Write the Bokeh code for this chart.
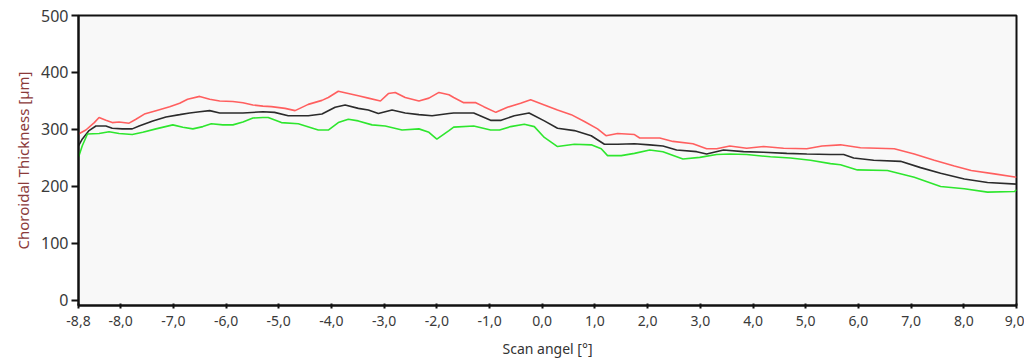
from bokeh.plotting import figure
from bokeh.models import Range1d, FixedTicker
from bokeh.embed import file_html
from bokeh.resources import INLINE

# ---- data ----
red_angle = [-8.8, -8.66, -8.50, -8.41, -8.28, -8.16, -8.03, -7.84, -7.71, -7.55, -7.33, -7.07, -6.88, -6.73,
             -6.50, -6.31, -6.12, -5.87, -5.68, -5.49, -5.30, -5.14, -4.88, -4.69, -4.44, -4.18, -4.06, -3.87,
             -3.68, -3.49, -3.30, -3.07, -2.92, -2.79, -2.60, -2.34, -2.15, -1.96, -1.77, -1.68, -1.49, -1.26,
             -1.11, -0.88, -0.66, -0.41, -0.22, 0.04, 0.29, 0.55, 0.80, 1.05, 1.21, 1.43, 1.75, 1.85, 2.23,
             2.48, 2.86, 3.12, 3.31, 3.56, 3.88, 4.20, 4.58, 5.02, 5.31, 5.66, 6.04, 6.68, 7.06, 7.44, 7.82,
             8.14, 8.58, 9.0]
red_values = [292, 299, 312, 321, 316, 312, 313, 311, 318, 327, 333, 340, 346, 353,
              358, 353, 350, 349, 347, 343, 341, 340, 337, 333, 344, 351, 356, 367,
              363, 359, 355, 350, 363, 365, 356, 350, 355, 365, 361, 356, 347, 347,
              340, 330, 339, 346, 352, 343, 334, 326, 314, 301, 289, 293, 291, 285, 285,
              279, 275, 266, 266, 271, 267, 270, 267, 266, 271, 273, 268, 266, 257, 246, 236,
              228, 222, 216]

black_angle = [-8.8, -8.73, -8.60, -8.47, -8.28, -8.16, -7.97, -7.78, -7.65, -7.39, -7.14, -6.88, -6.69,
               -6.50, -6.31, -6.12, -5.87, -5.68, -5.30, -5.08, -4.82, -4.44, -4.18, -3.93, -3.74, -3.49,
               -3.30, -3.11, -2.85, -2.60, -2.34, -2.09, -1.77, -1.68, -1.30, -0.98, -0.78, -0.53, -0.25,
               0.04, 0.29, 0.61, 0.93, 1.18, 1.43, 1.75, 2.04, 2.29, 2.55, 2.93, 3.12, 3.44, 3.82, 4.20,
               4.64, 5.02, 5.47, 5.72, 5.91, 6.29, 6.80, 7.18, 7.56, 8.01, 8.45, 9.0]
black_values = [271, 283, 298, 306, 306, 302, 301, 301, 306, 315, 322, 326, 329,
                331, 333, 329, 329, 329, 331, 330, 324, 324, 327, 339, 343, 337,
                334, 328, 334, 329, 326, 324, 328, 329, 329, 316, 316, 324, 329,
                315, 302, 298, 289, 274, 274, 275, 273, 271, 264, 261, 257, 264, 261, 260,
                258, 257, 256, 256, 250, 246, 244, 233, 223, 213, 207, 204]

green_angle = [-8.8, -8.73, -8.63, -8.41, -8.22, -8.03, -7.78, -7.58, -7.33, -7.01, -6.82, -6.63, -6.44,
               -6.28, -6.06, -5.87, -5.68, -5.49, -5.30, -5.20, -4.95, -4.63, -4.25, -4.06, -3.87, -3.68,
               -3.49, -3.23, -2.98, -2.66, -2.34, -2.15, -2.00, -1.77, -1.68, -1.30, -0.98, -0.81, -0.60,
               -0.34, -0.15, 0.04, 0.29, 0.61, 0.93, 1.12, 1.24, 1.50, 1.75, 2.04, 2.29, 2.67, 2.99, 3.31,
               3.56, 3.88, 4.33, 4.71, 5.09, 5.47, 5.66, 5.98, 6.55, 7.06, 7.56, 8.01, 8.45, 8.96, 9.0]
green_values = [251, 271, 292, 293, 296, 293, 291, 295, 301, 308, 304, 301, 305,
                310, 308, 308, 313, 320, 321, 321, 312, 310, 299, 299, 312, 318,
                315, 308, 306, 299, 301, 295, 283, 298, 304, 306, 299, 299, 305,
                309, 305, 286, 270, 274, 273, 266, 254, 254, 258, 264, 261, 248, 251, 256,
                257, 256, 252, 250, 246, 240, 238, 229, 228, 216, 200, 196, 190, 191, 194]

x_ticks = [-8.8, -8, -7, -6, -5, -4, -3, -2, -1, 0, 1, 2, 3, 4, 5, 6, 7, 8, 9]
x_tick_labels = ["-8,8", "-8,0", "-7,0", "-6,0", "-5,0", "-4,0", "-3,0", "-2,0", "-1,0", "0,0",
                 "1,0", "2,0", "3,0", "4,0", "5,0", "6,0", "7,0", "8,0", "9,0"]
y_ticks = [0, 100, 200, 300, 400, 500]

FONT = "Noto Sans"

p = figure(width=1024, height=360, output_backend="svg", toolbar_location=None,
           x_range=Range1d(-8.8, 9.0), y_range=Range1d(-9, 500),
           min_border_left=78, min_border_right=8, min_border_top=15, min_border_bottom=55)

p.background_fill_color = "#f8f8f8"
p.border_fill_color = "white"
p.outline_line_color = "#111111"
p.outline_line_width = 2
p.xgrid.visible = False
p.ygrid.visible = False

p.line(red_angle, red_values, line_color="#ff5f5f", line_width=1.6)
p.line(black_angle, black_values, line_color="#2b2b2b", line_width=1.6)
p.line(green_angle, green_values, line_color="#2ee62e", line_width=1.6)

xa = p.xaxis[0]
xa.ticker = FixedTicker(ticks=x_ticks)
xa.major_label_overrides = {t: l for t, l in zip(x_ticks, x_tick_labels)}
xa.axis_label = "Scan angel [°]"
xa.axis_label_text_font = FONT
xa.axis_label_text_font_size = "14px"
xa.axis_label_text_font_style = "normal"
xa.axis_label_text_color = "#333333"
xa.axis_label_standoff = 10
xa.major_label_text_font = FONT
xa.major_label_text_font_size = "14px"
xa.major_label_text_color = "#3a3a3a"
xa.major_label_standoff = 7
xa.axis_line_color = "#111111"
xa.axis_line_width = 2
xa.major_tick_line_color = "#111111"
xa.major_tick_line_width = 2
xa.major_tick_in = 2
xa.major_tick_out = 3
xa.minor_tick_line_color = None

ya = p.yaxis[0]
ya.ticker = FixedTicker(ticks=y_ticks)
ya.axis_label = "Choroidal Thickness [µm]"
ya.axis_label_text_font = FONT
ya.axis_label_text_font_size = "15px"
ya.axis_label_text_font_style = "normal"
ya.axis_label_text_color = "#8b3a3a"
ya.axis_label_standoff = 5
ya.major_label_text_font = FONT
ya.major_label_text_font_size = "16px"
ya.major_label_text_color = "#3a3a3a"
ya.major_label_standoff = 3
ya.axis_line_color = "#111111"
ya.axis_line_width = 2
ya.major_tick_line_color = "#111111"
ya.major_tick_line_width = 2
ya.major_tick_in = 0
ya.major_tick_out = 7
ya.minor_tick_line_color = None

open("out.html", "w").write(file_html(p, INLINE))
